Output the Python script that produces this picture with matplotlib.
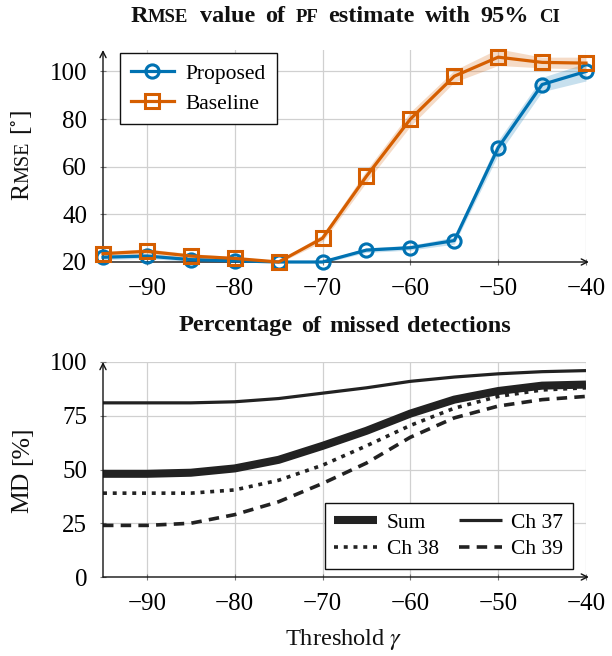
import matplotlib
matplotlib.use("Agg")
import matplotlib.pyplot as plt
import matplotlib.transforms as mtransforms
from matplotlib.font_manager import FontProperties
import numpy as np

plt.rcParams['font.family'] = ['Liberation Serif', 'DejaVu Serif']
plt.rcParams['mathtext.fontset'] = 'stix'

# ---------------- data ----------------
thresholds = [-95, -90, -85, -80, -75, -70, -65, -60, -55, -50, -45, -40]

proposed = [22.0, 22.5, 21.0, 20.5, 20.0, 20.0, 25.0, 26.0, 29.0, 68.0, 94.5, 100.0]
proposed_lo = [21.0, 21.5, 20.2, 19.8, 19.5, 19.5, 24.0, 25.0, 27.5, 65.0, 91.5, 96.0]
proposed_hi = [23.0, 23.5, 21.8, 21.2, 20.5, 20.5, 26.0, 27.0, 30.5, 71.0, 97.5, 103.5]

baseline = [23.5, 24.5, 22.5, 21.5, 20.0, 30.0, 56.0, 80.0, 98.0, 106.0, 103.8, 103.5]
baseline_lo = [22.5, 23.5, 21.5, 20.7, 19.5, 28.5, 53.5, 77.0, 95.5, 102.5, 101.5, 101.0]
baseline_hi = [24.5, 25.5, 23.5, 22.3, 20.5, 31.5, 58.5, 83.0, 100.5, 109.5, 106.0, 106.0]

md_sum = [48.0, 48.0, 48.5, 50.5, 54.5, 61.0, 68.0, 76.0, 82.5, 86.5, 89.0, 89.5]
md_ch37 = [81.0, 81.0, 81.0, 81.5, 83.0, 85.5, 88.0, 91.0, 93.0, 94.5, 95.5, 96.0]
md_ch38 = [39.0, 39.0, 39.0, 40.5, 45.0, 52.0, 61.0, 70.5, 78.5, 84.0, 87.0, 88.0]
md_ch39 = [24.0, 24.0, 25.0, 29.0, 35.0, 43.5, 53.0, 65.0, 74.0, 79.5, 82.5, 84.0]

xticks = [-90, -80, -70, -60, -50, -40]
yticks_top = [20, 40, 60, 80, 100]
yticks_bot = [0, 25, 50, 75, 100]

BLUE = '#0072B2'
ORANGE = '#D55E00'
DARK = '#222222'
GRID = '#d0d0d0'

W, H = 612, 656
fig = plt.figure(figsize=(W / 100, H / 100), dpi=100)

def px_axes(l, r, top, bot):
    return [l / W, (H - bot) / H, (r - l) / W, (bot - top) / H]

ax1 = fig.add_axes(px_axes(103, 586, 50, 262))
ax2 = fig.add_axes(px_axes(103, 586, 362, 577))

def style_axes(ax, yticks, ylim):
    ax.set_xlim(-95, -40)
    ax.set_ylim(*ylim)
    ax.set_xticks(xticks)
    ax.set_xticklabels([f"\u2212{abs(v)}" for v in xticks])
    ax.set_yticks(yticks)
    ax.set_yticklabels([str(v) for v in yticks])
    ax.grid(True, color=GRID, lw=0.9)
    ax.set_axisbelow(True)
    for s in ax.spines.values():
        s.set_visible(False)
    ax.tick_params(axis='both', direction='inout', length=5, width=0.8,
                   color='#777777', labelsize=18)
    ax.tick_params(axis='x', pad=9)
    ax.tick_params(axis='y', pad=9)
    ax.annotate('', xy=(0, 1.0), xytext=(0, 0), xycoords='axes fraction',
                arrowprops=dict(arrowstyle='->', lw=1.0, color='#111111',
                                shrinkA=0, shrinkB=0, mutation_scale=11),
                annotation_clip=False)
    ax.annotate('', xy=(1.006, 0), xytext=(0, 0), xycoords='axes fraction',
                arrowprops=dict(arrowstyle='->', lw=1.0, color='#111111',
                                shrinkA=0, shrinkB=0, mutation_scale=11),
                annotation_clip=False)

style_axes(ax1, yticks_top, (20, 109))
style_axes(ax2, yticks_bot, (0, 100))

# --- top plot ---
ax1.fill_between(thresholds, proposed_lo, proposed_hi, color=BLUE, alpha=0.22, lw=0)
ax1.fill_between(thresholds, baseline_lo, baseline_hi, color=ORANGE, alpha=0.22, lw=0)
ax1.plot(thresholds, proposed, color=BLUE, lw=2.3, marker='o', ms=9.5,
         mfc='none', mew=2.2, label='Proposed', clip_on=False, zorder=3)
ax1.plot(thresholds, baseline, color=ORANGE, lw=2.3, marker='s', ms=9.5,
         mfc='none', mew=2.2, label='Baseline', clip_on=False, zorder=4)
leg1 = ax1.legend(loc='upper left', bbox_to_anchor=(0.035, 0.986), borderaxespad=0,
                  fontsize=15.5, handlelength=2.0, handletextpad=0.55,
                  labelspacing=0.45, borderpad=0.5, fancybox=False,
                  edgecolor='#111111', framealpha=1, numpoints=1)
leg1.get_frame().set_linewidth(1.0)

# --- bottom plot ---
ax2.plot(thresholds, md_sum, color=DARK, lw=5.8, label='Sum', solid_capstyle='butt')
ax2.plot(thresholds, md_ch37, color=DARK, lw=2.3, label='Ch 37', solid_capstyle='butt')
ax2.plot(thresholds, md_ch38, color=DARK, lw=2.6, label='Ch 38',
         dashes=(1.1, 1.6), dash_capstyle='butt')
ax2.plot(thresholds, md_ch39, color=DARK, lw=2.6, label='Ch 39',
         dashes=(2.9, 2.0), dash_capstyle='butt')
h, l = ax2.get_legend_handles_labels()
order = [0, 2, 1, 3]
leg2 = ax2.legend([h[i] for i in order], [l[i] for i in order], ncol=2,
                  loc='lower right', bbox_to_anchor=(0.973, 0.037), borderaxespad=0,
                  fontsize=15.5, handlelength=2.0, handletextpad=0.45,
                  labelspacing=0.3, columnspacing=0.9, borderpad=0.45,
                  fancybox=False, edgecolor='#111111', framealpha=1)
leg2.get_frame().set_linewidth(1.0)

# ------------- mixed-size (small caps) text helper -------------
fig.canvas.draw()
renderer = fig.canvas.get_renderer()
ident = mtransforms.IdentityTransform()

def text_w(s, fp):
    t1 = fig.text(0, 0, '|' + s + '|', fontproperties=fp, transform=ident)
    t2 = fig.text(0, 0, '||', fontproperties=fp, transform=ident)
    w = t1.get_window_extent(renderer).width - t2.get_window_extent(renderer).width
    t1.remove(); t2.remove()
    return w

def mixed(pieces, cx, cy, rotation=0):
    # pieces: (text, fontprops) or (None, gap_in_pixels)
    widths = [p[1] if p[0] is None else text_w(p[0], p[1]) for p in pieces]
    total = sum(widths)
    pos = (cx - total / 2) if rotation == 0 else (cy - total / 2)
    for (s, fp), w in zip(pieces, widths):
        if s is not None and s.strip():
            if rotation == 0:
                fig.text(pos, cy, s, fontproperties=fp, transform=ident,
                         ha='left', va='baseline', color='#111111')
            else:
                fig.text(cx, pos, s, fontproperties=fp, transform=ident,
                         ha='left', va='baseline', rotation=90,
                         rotation_mode='anchor', color='#111111')
        pos += w

fam = ['Liberation Serif', 'DejaVu Serif']
tb = FontProperties(family=fam, weight='bold', size=17.5)
ts = FontProperties(family=fam, weight='bold', size=13.5)
G1 = (None, 10)
mixed([('R', tb), ('MSE', ts), (None, 12), ('value', tb), G1, ('of', tb), G1,
       ('PF', ts), G1, ('estimate', tb), G1, ('with', tb), G1, ('95%', tb), G1,
       ('CI', ts)],
      345, H - 22.5)

G2 = (None, 8)
mixed([('Percentage', tb), G2, ('of', tb), G2, ('missed', tb), G2, ('detections', tb)],
      345, H - 331.5)

lb = FontProperties(family=fam, size=18.5)
ls = FontProperties(family=fam, size=14.5)
mixed([('R', lb), ('MSE', ls), (' ', lb), ('[$^{\\circ}$]', lb)], 28, H - 155, rotation=90)
mixed([('MD', lb), (' ', lb), ('[%]', lb)], 28, H - 470, rotation=90)

xl = FontProperties(family=fam, size=17.6)
fig.text(344, H - 645, 'Threshold $\\gamma$', fontproperties=xl, transform=ident,
         ha='center', va='baseline', color='#111111')

fig.savefig('out.png', dpi=100)
